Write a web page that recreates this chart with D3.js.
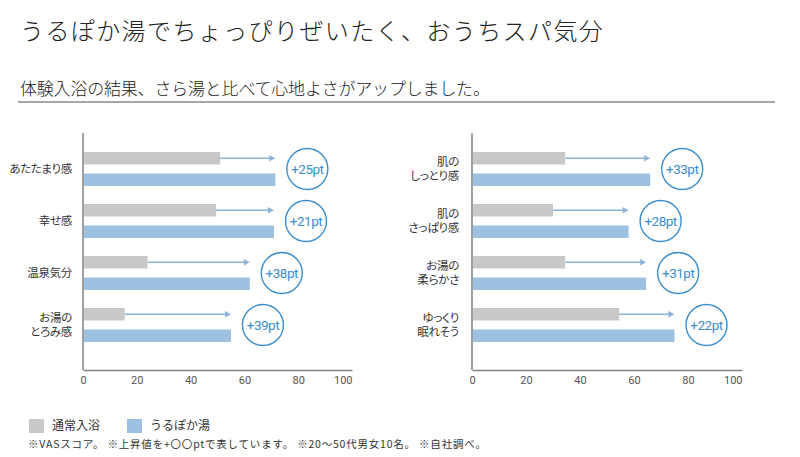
<!DOCTYPE html>
<html><head><meta charset="utf-8">
<script src="https://cdn.jsdelivr.net/npm/d3@7"></script>
<style>
body{margin:0;background:#fff}
svg{display:block;font-family:"Noto Sans CJK JP","Noto Sans",sans-serif}
</style>
</head><body>
<svg id="c" width="800" height="457"></svg>
<script>
// ---- data ----
const leftCategories = ["あたたまり感", "幸せ感", "温泉気分", "お湯の\nとろみ感"];
const leftNormal = [51, 49.5, 24, 15.5];
const leftUrupoka = [71.5, 71, 62, 55];
const leftGain = [25, 21, 38, 39];

const rightCategories = ["肌の\nしっとり感", "肌の\nさっぱり感", "お湯の\n柔らかさ", "ゆっくり\n眠れそう"];
const rightNormal = [34.5, 30, 34.5, 54.5];
const rightUrupoka = [66, 58, 64.5, 75];
const rightGain = [33, 28, 31, 22];

const xTicks = [0, 20, 40, 60, 80, 100];
const seriesNames = ["通常入浴", "うるぽか湯"];
const titleText = "うるぽか湯でちょっぴりぜいたく、おうちスパ気分";
const subtitleText = "体験入浴の結果、さら湯と比べて心地よさがアップしました。";
const noteText = "※VASスコア。 ※上昇値を+〇〇ptで表しています。 ※20〜50代男女10名。 ※自社調べ。";

// ---- style ----
const grayColor = "#c8c8c8";
const blueColor = "#9dc1e1";
const arrowColor = "#8db4da";
const circleColor = "#3b8dcc";
const axisColor = "#808080";

const svg = d3.select("#c");

svg.append("text").attr("x", 20).attr("y", 40)
  .attr("font-size", 24).attr("font-weight", 300).attr("letter-spacing", 1.4)
  .attr("fill", "#222").text(titleText);

svg.append("text").attr("x", 20).attr("y", 95)
  .attr("font-size", 17).attr("font-weight", 300).attr("letter-spacing", -0.2)
  .attr("fill", "#222").text(subtitleText);

svg.append("line").attr("x1", 18).attr("x2", 775).attr("y1", 102).attr("y2", 102)
  .attr("stroke", "#8a8a8a").attr("stroke-width", 1.3);

const yTop = 133, yBottom = 370;

function panel(cfg) {
  const { x0, x1, labelX, cats, normal, upoka, gain } = cfg;
  const g = svg.append("g");
  const x = d3.scaleLinear().domain([0, 100]).range([x0, x1]);
  const y = d3.scaleBand().domain(cats).range([143, 351]);
  const sub = d3.scaleBand().domain(seriesNames).range([9, 43]).paddingInner(0.42);

  const rows = cats.map((c, i) => ({ c, n: normal[i], u: upoka[i], g: gain[i] }));

  const rowG = g.selectAll("g.row").data(rows).join("g")
    .attr("transform", d => `translate(0,${y(d.c)})`);

  rowG.append("rect")
    .attr("x", x(0) + 1).attr("y", sub(seriesNames[0]))
    .attr("width", d => x(d.n) - x(0) - 1).attr("height", sub.bandwidth())
    .attr("fill", grayColor);
  rowG.append("rect")
    .attr("x", x(0) + 1).attr("y", sub(seriesNames[1]))
    .attr("width", d => x(d.u) - x(0) - 1).attr("height", sub.bandwidth())
    .attr("fill", blueColor);

  const ay = sub(seriesNames[0]) + sub.bandwidth() / 2;
  rowG.append("line")
    .attr("x1", d => x(d.n)).attr("x2", d => x(d.u) - 4)
    .attr("y1", ay).attr("y2", ay)
    .attr("stroke", arrowColor).attr("stroke-width", 1.6);
  rowG.append("path")
    .attr("d", d => `M${x(d.u)},${ay} L${x(d.u) - 6},${ay - 3.2} L${x(d.u) - 6},${ay + 3.2} Z`)
    .attr("fill", arrowColor);

  const cy = y.bandwidth() / 2;
  rowG.append("circle")
    .attr("cx", d => x(d.u) + 32).attr("cy", cy).attr("r", 20.5)
    .attr("fill", "#fff").attr("stroke", circleColor).attr("stroke-width", 1.4);
  rowG.append("text")
    .attr("x", d => x(d.u) + 32).attr("y", cy).attr("dy", "0.35em")
    .attr("text-anchor", "middle")
    .attr("font-family", "Roboto, 'Noto Sans', sans-serif")
    .attr("font-size", 13.5).attr("letter-spacing", -0.5)
    .attr("fill", circleColor)
    .text(d => `+${d.g}pt`);

  rowG.each(function (d) {
    const lines = d.c.split("\n");
    const t = d3.select(this).append("text")
      .attr("text-anchor", "end").attr("font-size", 11.5).attr("fill", "#333")
      .attr("letter-spacing", -0.3)
      .style("font-feature-settings", "'palt' 1");
    lines.forEach((l, k) => {
      t.append("tspan").attr("x", labelX)
        .attr("y", cy + (k - (lines.length - 1) / 2) * 13.5)
        .attr("dy", "0.36em").text(l);
    });
  });

  g.append("line").attr("x1", x0).attr("x2", x0).attr("y1", yTop).attr("y2", yBottom)
    .attr("stroke", axisColor).attr("stroke-width", 1.5);
  const ax = g.append("g").attr("transform", `translate(0,${yBottom})`)
    .call(d3.axisBottom(x).tickValues(xTicks).tickSize(0).tickSizeOuter(0).tickPadding(6));
  ax.select(".domain").attr("stroke", axisColor).attr("stroke-width", 1.5);
  ax.selectAll("text").attr("font-family", "Roboto, 'Noto Sans', sans-serif")
    .attr("font-size", 11).attr("fill", "#555");
  ax.selectAll(".tick").filter(d => d === 100).select("text").attr("text-anchor", "end");
}

panel({ x0: 83, x1: 352, labelX: 72, cats: leftCategories, normal: leftNormal, upoka: leftUrupoka, gain: leftGain });
panel({ x0: 472, x1: 742, labelX: 459, cats: rightCategories, normal: rightNormal, upoka: rightUrupoka, gain: rightGain });

const legend = svg.append("g");
const legX = [29, 127];
seriesNames.forEach((s, i) => {
  legend.append("rect").attr("x", legX[i]).attr("y", 419).attr("width", 15).attr("height", 14)
    .attr("fill", i === 0 ? grayColor : blueColor);
  legend.append("text").attr("x", legX[i] + 23).attr("y", 426).attr("dy", "0.36em")
    .attr("font-size", 12).attr("fill", "#333").text(s);
});

svg.append("text").attr("x", 28).attr("y", 444).attr("dy", "0.36em")
  .attr("font-size", 10.5).attr("fill", "#333")
  .attr("textLength", 458).attr("lengthAdjust", "spacing")
  .text(noteText);
</script>
</body></html>
